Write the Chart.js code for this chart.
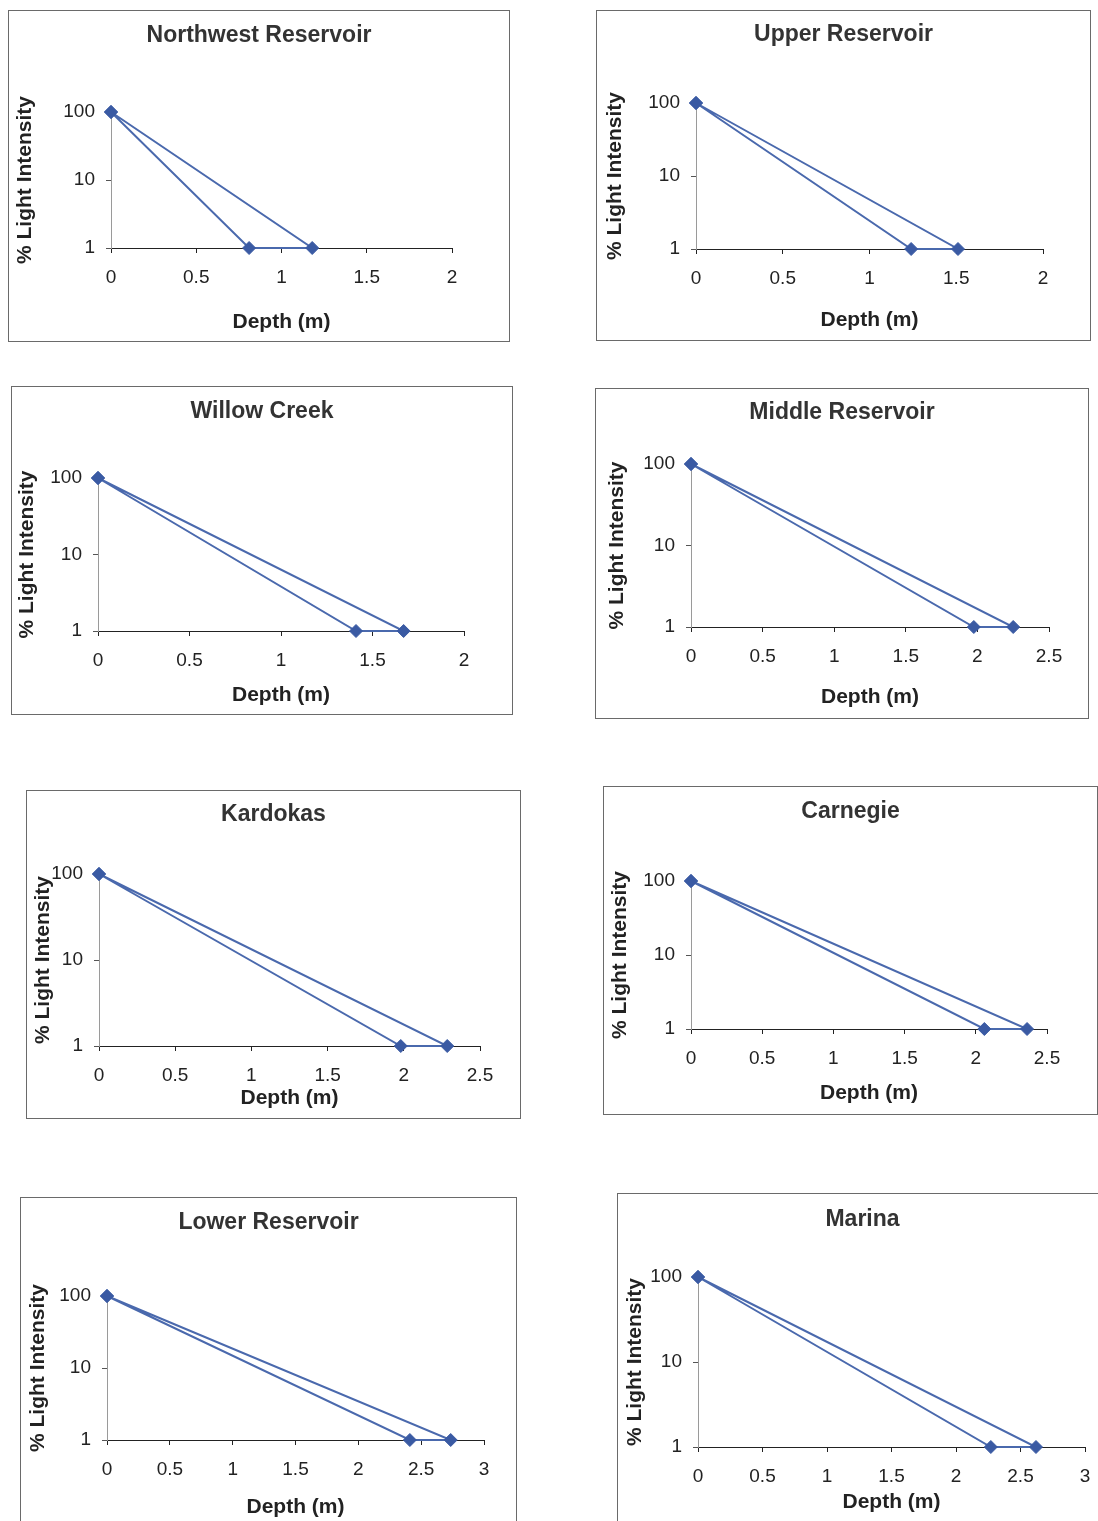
<!DOCTYPE html>
<html><head><meta charset="utf-8">
<script src="https://cdn.jsdelivr.net/npm/chart.js@4.4.0/dist/chart.umd.min.js"></script>
<style>
html,body{margin:0;padding:0;background:#fff;width:1098px;height:1521px;overflow:hidden;position:relative}
.panel{position:absolute;border:1px solid #6a6a6a;box-sizing:border-box;background:#fff;overflow:hidden}
.panel canvas{position:absolute;left:0;top:0}
</style></head><body>
<script>
// ---- data ----
const siteNames = ['Northwest Reservoir','Upper Reservoir','Willow Creek','Middle Reservoir','Kardokas','Carnegie','Lower Reservoir','Marina'];
const shallowDepth = [0.81, 1.24, 1.41, 1.975, 1.98, 2.06, 2.41, 2.27];   // depth (m) where light reaches 1% (first line)
const deepDepth    = [1.18, 1.51, 1.67, 2.25, 2.285, 2.36, 2.735, 2.62]; // depth (m) where light reaches 1% (second line)
const surfaceLight = 100;
const bottomLight = 1;
const depthAxisMax = [2, 2, 2, 2.5, 2.5, 2.5, 3, 3];
const depthTickStep = 0.5;
const lightTicks = [1, 10, 100];
const xTitleText = 'Depth (m)';
const yTitleText = '% Light Intensity';

// ---- layout (page pixels): box [l,t,r,b], plot [l,r,t,b], title centre y, y-title centre x, x-title centre y ----
const panelLayout = [
  {box:[8,10,509,341],    plot:[111,452,112,248],   titleY:36,   yTitleX:25,  xTitleY:322},
  {box:[596,10,1090,340], plot:[696,1043,103,249],  titleY:35,   yTitleX:615, xTitleY:320},
  {box:[11,386,512,714],  plot:[98,464,478,631],    titleY:412,  yTitleX:27,  xTitleY:695},
  {box:[595,388,1088,718],plot:[691,1049,464,627],  titleY:413,  yTitleX:617, xTitleY:697},
  {box:[26,790,520,1118], plot:[99,480,874,1046],   titleY:815,  yTitleX:43,  xTitleY:1098},
  {box:[603,786,1097,1114],plot:[691,1047,881,1029],titleY:812,  yTitleX:620, xTitleY:1093},
  {box:[20,1197,516,1540],plot:[107,484,1296,1440], titleY:1223, yTitleX:38,  xTitleY:1507},
  {box:[617,1193,1107,1540],plot:[698,1085,1277,1447],titleY:1220,yTitleX:635, xTitleY:1502}
];

Chart.defaults.font.family = '"Liberation Sans", Arial, sans-serif';
Chart.defaults.color = '#222';

const TITLE_FONT = 23, AXT_FONT = 21, TICK_FONT = 19;

siteNames.forEach((name, i) => {
  const L = panelLayout[i];
  const [bl, bt, br, bb] = L.box;
  const div = document.createElement('div');
  div.className = 'panel';
  div.style.left = bl + 'px'; div.style.top = bt + 'px';
  div.style.width = (br - bl + 1) + 'px'; div.style.height = (bb - bt + 1) + 'px';
  document.body.appendChild(div);
  const cl = bl + 1, ct = bt + 1;
  const cw = br - bl - 1, ch = bb - bt - 1;
  const cv = document.createElement('canvas');
  cv.width = cw; cv.height = ch;
  cv.style.width = cw + 'px'; cv.style.height = ch + 'px';
  div.appendChild(cv);

  const plotL = L.plot[0] - cl, plotR = L.plot[1] - cl, plotT = L.plot[2] - ct, plotB = L.plot[3] - ct;
  const tLH = TITLE_FONT * 1.2;
  const titlePadTop = (L.titleY - ct) - tLH / 2;
  const titlePadBottom = plotT - titlePadTop - tLH;
  const aLH = AXT_FONT * 1.2;
  const yTitlePad = (L.yTitleX - cl) - aLH / 2;
  const xAxisH = (L.xTitleY - ct) - plotB + aLH / 2;
  const padBottom = Math.max(0, ch - plotB - xAxisH);
  const rightW = cw - plotR;

  new Chart(cv, {
    type: 'scatter',
    data: {
      datasets: [{
        data: [
          {x: 0, y: surfaceLight},
          {x: shallowDepth[i], y: bottomLight},
          {x: deepDepth[i], y: bottomLight},
          {x: 0, y: surfaceLight}
        ],
        showLine: true,
        borderColor: '#4a69ad',
        borderWidth: 2,
        pointStyle: 'rectRot',
        pointRadius: 6.5,
        pointBackgroundColor: '#3a5aa3',
        pointBorderColor: '#3a5aa3',
        pointBorderWidth: 1,
        tension: 0,
        clip: false
      }]
    },
    options: {
      responsive: false,
      animation: false,
      events: [],
      layout: {padding: {left: 0, right: 0, top: 0, bottom: padBottom}},
      plugins: {
        legend: {display: false},
        tooltip: {enabled: false},
        title: {
          display: true, text: name, color: '#333',
          font: {size: TITLE_FONT, weight: 'bold'},
          padding: {top: titlePadTop, bottom: titlePadBottom}
        }
      },
      scales: {
        x: {
          type: 'linear', position: 'bottom',
          min: 0, max: depthAxisMax[i],
          ticks: {stepSize: depthTickStep, padding: 13, maxRotation: 0, autoSkip: false,
                  font: {size: TICK_FONT}, color: '#222',
                  callback: v => String(+v.toFixed(2))},
          grid: {drawOnChartArea: false, drawTicks: true, tickLength: 5, color: '#222'},
          border: {color: '#222', width: 1},
          title: {display: true, text: xTitleText, color: '#222',
                  font: {size: AXT_FONT, weight: 'bold'}, padding: {top: 0, bottom: 0}},
          afterFit: s => { s.height = xAxisH; }
        },
        y: {
          type: 'logarithmic', position: 'left',
          min: lightTicks[0], max: lightTicks[lightTicks.length - 1],
          afterBuildTicks: s => { s.ticks = lightTicks.map(v => ({value: v})); },
          ticks: {padding: 11, font: {size: TICK_FONT}, color: '#222', callback: v => String(v)},
          grid: {drawOnChartArea: false, drawTicks: true, tickLength: 5, color: '#555'},
          border: {color: '#9a9a9a', width: 1},
          title: {display: true, text: yTitleText, color: '#222',
                  font: {size: AXT_FONT, weight: 'bold'}, padding: {top: yTitlePad, bottom: 0}},
          afterFit: s => { s.width = plotL; }
        },
        yRight: {
          type: 'linear', position: 'right', display: true,
          grid: {display: false}, border: {display: false}, ticks: {display: false},
          afterFit: s => { s.width = rightW; }
        }
      }
    }
  });
});
</script>
</body></html>
